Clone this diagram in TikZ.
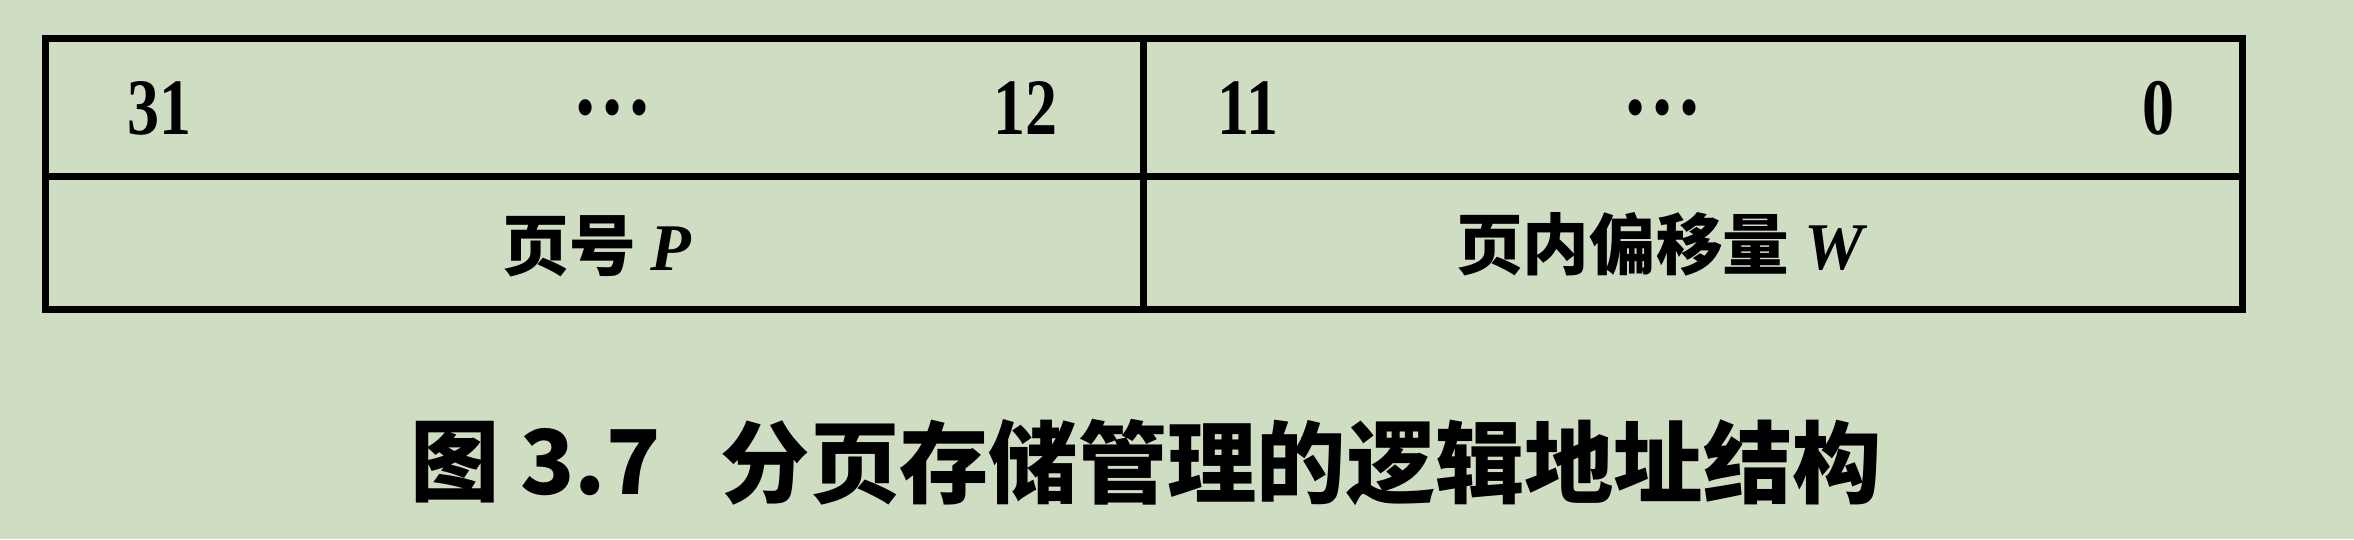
\documentclass[tikz,border=0pt]{standalone}
\usepackage{fontspec}
\setmainfont{Liberation Serif}
\newfontfamily\cjk{Noto Sans CJK SC}
\newfontfamily\numfont[FakeStretch=0.8]{Liberation Serif Bold}
\newfontfamily\itbf{Liberation Serif Bold Italic}
\definecolor{bg}{RGB}{207,222,195}
\tikzset{
  frameline/.style={line width=2.1pt, draw=black, line cap=rect},
  numtxt/.style={inner sep=0pt, font=\fontsize{24pt}{28pt}\numfont},
  dotstxt/.style={inner sep=0pt, font=\fontsize{30pt}{34pt}\numfont},
  lbltxt/.style={inner sep=0pt, font=\fontsize{20pt}{24pt}\cjk\bfseries},
  captxt/.style={inner sep=0pt, anchor=west, font=\fontsize{26.8pt}{30pt}\cjk\bfseries}
}
\begin{document}
\begin{tikzpicture}[x=0.3pt,y=-0.3pt]
\fill[bg] (0,0) rectangle (2354,539);
\useasboundingbox (0,0) rectangle (2354,539);
% table frame
\coordinate (tl) at (45,38);
\coordinate (tr) at (2242,38);
\coordinate (ml) at (45,176);
\coordinate (mr) at (2242,176);
\coordinate (bl) at (45,309);
\coordinate (br) at (2242,309);
\coordinate (dt) at (1143,38);
\coordinate (db) at (1143,309);
\draw[frameline] (tl) -- (tr) -- (br) -- (bl) -- cycle;
\draw[frameline] (ml) -- (mr);
\draw[frameline] (dt) -- (db);
% top row
\node[numtxt, anchor=west] (n31) at (127,108) {31};
\node[dotstxt] (d1) at (612,108) {…};
\node[numtxt, anchor=east] (n12) at (1058,108) {12};
\node[numtxt, anchor=west] (n11) at (1217,108) {11};
\node[dotstxt] (d2) at (1662,108) {…};
\node[numtxt, anchor=east] (n0) at (2175,108) {0};
% bottom row
\node[lbltxt] (pg) at (597,246) {页号 {\itbf P}};
\node[lbltxt] (off) at (1660,244) {页内偏移量 {\itbf W}};
% caption
\node[captxt] (capA) at (410,462) {图 3.7};
\node[captxt] (capB) at (720,462) {分页存储管理的逻辑地址结构};
\end{tikzpicture}
\end{document}
